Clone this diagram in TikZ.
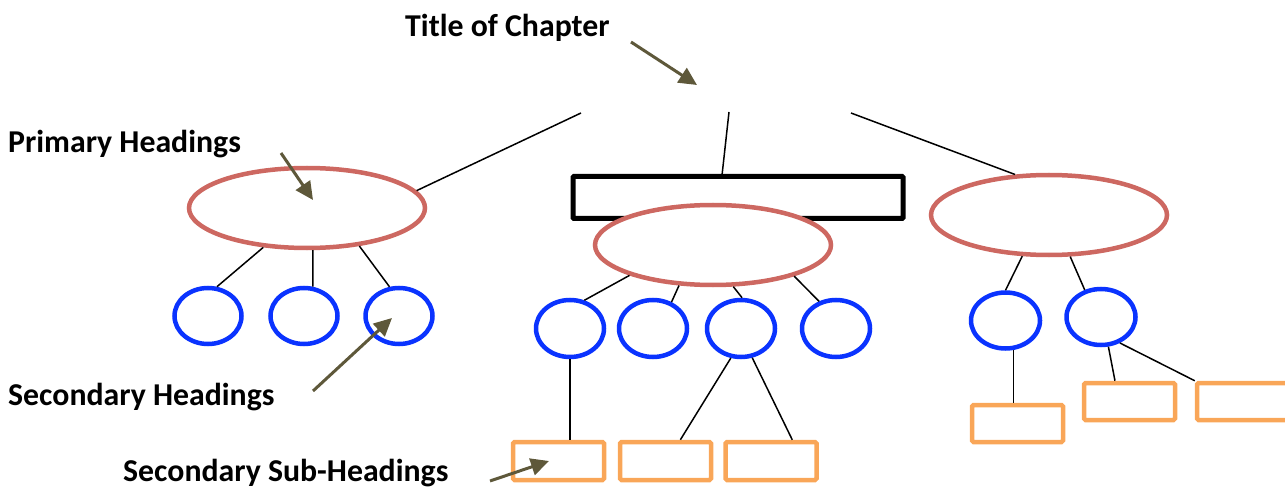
\documentclass[tikz,border=0pt]{standalone}
\usepackage{fontspec}
\setmainfont{Carlito}
\usetikzlibrary{shapes.geometric,arrows.meta}
\definecolor{prim}{RGB}{205,104,97}
\definecolor{sec}{RGB}{10,51,255}
\definecolor{sub}{RGB}{249,166,88}
\definecolor{olive}{RGB}{94,88,58}
\tikzset{
  primary/.style={ellipse,draw=prim,line width=4.5pt,fill=white,minimum width=236pt,minimum height=80pt,inner sep=0pt},
  secondary/.style={ellipse,draw=sec,line width=4.5pt,fill=white,minimum width=67pt,minimum height=56pt,inner sep=0pt},
  subbox/.style={rectangle,draw=sub,line width=4.5pt,rounded corners=1.5pt,minimum width=91pt,minimum height=38pt,inner sep=0pt},
  chapbox/.style={rectangle,draw=black,line width=5pt,rounded corners=1pt,minimum width=330pt,minimum height=42pt,inner sep=0pt},
  conn/.style={draw=black,line width=1.5pt},
  pointer/.style={draw=olive,line width=3pt,-{Triangle[length=18pt,width=17pt]}},
  label/.style={font=\bfseries\fontsize{31.8}{34}\selectfont,anchor=base west,inner sep=0pt}
}
\begin{document}
\begin{tikzpicture}[x=1pt,y=-1pt]
\useasboundingbox (0,0) rectangle (1285,489);
\clip (0,0) rectangle (1285,489);
% labels
\node[label] (tTitle) at (405,37) {Title of Chapter};
\node[label] (tPrim) at (8,153) {Primary Headings};
\node[label] (tSec) at (8,405) {Secondary Headings};
\node[label] (tSub) at (123,481) {Secondary Sub-Headings};
% chapter box and primaries
\node[chapbox] (R) at (738,197.5) {};
\node[primary] (P1) at (307,208) {};
\node[primary] (P2) at (713,245) {};
\node[primary] (P3) at (1049,215) {};
% secondaries
\node[secondary] (S1) at (208,316) {};
\node[secondary] (S2) at (304,316) {};
\node[secondary] (S3) at (399,316) {};
\node[secondary,minimum width=68pt,minimum height=57pt] (S4) at (570,328.5) {};
\node[secondary,minimum width=68pt,minimum height=57pt] (S5) at (653,328.5) {};
\node[secondary,minimum width=68pt,minimum height=57pt] (S6) at (741,328.5) {};
\node[secondary,minimum width=68pt,minimum height=57pt] (S7) at (836,328.5) {};
\node[secondary,minimum width=69pt] (S8) at (1005.5,320.5) {};
\node[secondary,minimum width=69pt] (S9) at (1101,317) {};
% sub boxes
\node[subbox] (B1) at (558.5,461) {};
\node[subbox] (B2) at (665.5,461) {};
\node[subbox] (B3) at (771,461) {};
\node[subbox,minimum height=37pt] (B4) at (1017.5,423.5) {};
\node[subbox,minimum height=37pt] (B5) at (1129.5,401.5) {};
\node[subbox,minimum height=37pt] (B6) at (1242.5,401.5) {};
% title connectors
\coordinate (t1) at (581,113);
\coordinate (t2) at (729,112);
\coordinate (t3) at (851,113);
\draw[conn] (t1) -- (P1.9);
\draw[conn] (t2) -- (R.124);
\draw[conn] (t3) -- (P3.130);
% primary to secondary
\draw[conn] (P1.-138) -- (S1.73);
\draw[conn] (P1.-82) -- (S2.73);
\draw[conn] (P1.-36.5) -- (S3.108);
\draw[conn] (P2.-160) -- (S4.63);
\draw[conn] (P2.-130) -- (S5.55);
\draw[conn] (P2.-64) -- (S6.88);
\draw[conn] (P2.-21) -- (S7.122);
\draw[conn] (P3.-123) -- (S8.90);
\draw[conn] (P3.-63) -- (S9.121);
% secondary to sub
\draw[conn] (S4.south) -- (S4.south |- B1.north);
\draw[conn] (S6.-109) -- (B2.55);
\draw[conn] (S6.-69) -- (B3.45);
\draw[conn] (S8.-75) -- (S8.-75 |- B4.north);
\draw[conn] (S9.-76) -- (B5.125);
\draw[conn] (S9.-54) -- (B6.north west);
% pointers
\coordinate (a1s) at (631,42);  \coordinate (a1e) at (697,85);
\coordinate (a2s) at (281,153); \coordinate (a2e) at (313,200);
\coordinate (a3s) at (313,391); \coordinate (a3e) at (392,318);
\coordinate (a4s) at (490,481); \coordinate (a4e) at (549,461);
\draw[pointer] (a1s) -- (a1e);
\draw[pointer] (a2s) -- (a2e);
\draw[pointer] (a3s) -- (a3e);
\draw[pointer] (a4s) -- (a4e);
\end{tikzpicture}
\end{document}
